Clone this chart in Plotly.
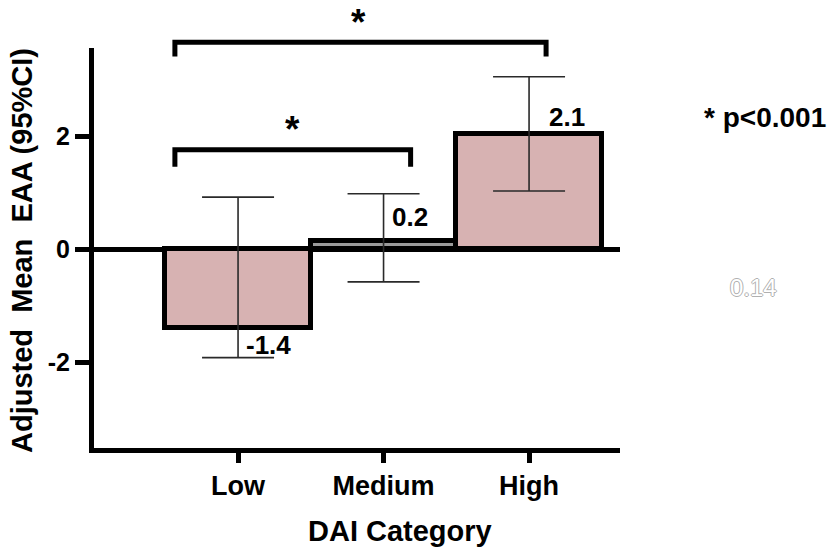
import plotly.graph_objects as go

# ---- data ----
categories = ["Low", "Medium", "High"]
means = [-1.4, 0.15, 2.03]
ci_lower = [-1.92, -0.58, 1.03]
ci_upper = [0.92, 0.98, 3.05]
bar_labels = ["-1.4", "0.2", "2.1"]
y_ticks = [-2, 0, 2]
x_title = "DAI Category"
y_title = "Adjusted  Mean  EAA (95%CI)"
sig_note = "* p<0.001"
stray_note = "0.14"
# brackets: (from category index, to category index, level)
brackets = [(0, 2, 3.66), (0, 1, 1.76)]

# ---- layout constants ----
W, H = 831, 549
ML, MR, MT, MB = 94, 211, 48, 101
XR = [-0.99, 2.625]
YR = [-3.52, 3.56]
FONT = "Liberation Sans, Arial, Helvetica, sans-serif"
plot_w = W - ML - MR
plot_h = H - MT - MB


def px_x(px):
    return (px - ML) / plot_w


def px_y(py):
    return (H - MB - py) / plot_h


def dx_paper(x):
    return (x - XR[0]) / (XR[1] - XR[0])


def dy_paper(y):
    return (y - YR[0]) / (YR[1] - YR[0])


colors = ["#d7b2b2", "#9a9a9a", "#d7b2b2"]

fig = go.Figure()
fig.add_trace(go.Bar(
    x=categories,
    y=means,
    width=1.0,
    marker=dict(color=colors, line=dict(color="black", width=5)),
    error_y=dict(
        type="data",
        symmetric=False,
        array=[u - m for u, m in zip(ci_upper, means)],
        arrayminus=[m - l for m, l in zip(means, ci_lower)],
        color="#2a2a2a",
        thickness=1.6,
        width=36,
    ),
    hoverinfo="skip",
))

annotations = []
# bar value labels
label_off = [(0.21, -0.30), (0.18, 0.42), (0.26, 0.31)]
for i, (lab, m) in enumerate(zip(bar_labels, means)):
    ox, oy = label_off[i]
    annotations.append(dict(
        x=i + ox, y=m + oy, xref="x", yref="y", text="<b>%s</b>" % lab,
        showarrow=False, font=dict(family=FONT, size=26, color="black"),
        xanchor="center", yanchor="middle",
    ))

shapes = []
bracket_ext = [(-0.434, 0.117, 0.25), (-0.434, 0.186, 0.30)]
star_px = [(358, 22), (292, 129)]
for (a, b, lvl), (ea, eb, drop), (sx, sy) in zip(brackets, bracket_ext, star_px):
    x0 = dx_paper(a + ea)
    x1 = dx_paper(b + eb)
    yt = dy_paper(lvl)
    yb = dy_paper(lvl - drop)
    shapes.append(dict(
        type="path", xref="paper", yref="paper",
        path="M %f %f L %f %f L %f %f L %f %f" % (x0, yb, x0, yt, x1, yt, x1, yb),
        line=dict(color="black", width=5),
    ))
    annotations.append(dict(
        x=px_x(sx), y=px_y(sy), xref="paper", yref="paper", text="<b>*</b>",
        showarrow=False, font=dict(family=FONT, size=37, color="black"),
        xanchor="center", yanchor="middle",
    ))

annotations += [
    dict(x=px_x(400), y=px_y(531), xref="paper", yref="paper",
         text="<b>%s</b>" % x_title, showarrow=False,
         font=dict(family=FONT, size=29, color="black"),
         xanchor="center", yanchor="middle"),
    dict(x=px_x(22), y=px_y(251), xref="paper", yref="paper",
         text="<b>%s</b>" % y_title, showarrow=False, textangle=-90,
         font=dict(family=FONT, size=29, color="black"),
         xanchor="center", yanchor="middle"),
    dict(x=px_x(702), y=px_y(117), xref="paper", yref="paper",
         text="<b>%s</b>" % sig_note, showarrow=False,
         font=dict(family=FONT, size=28, color="black"),
         xanchor="left", yanchor="middle"),
    dict(x=px_x(753), y=px_y(287), xref="paper", yref="paper",
         text=stray_note, showarrow=False,
         font=dict(family=FONT, size=24, color="white",
                   shadow="1px 0 0 #b0b0b0, -1px 0 0 #b0b0b0, 0 1px 0 #b0b0b0, 0 -1px 0 #b0b0b0"),
         xanchor="center", yanchor="middle"),
]

fig.update_layout(
    width=W, height=H,
    margin=dict(l=ML, r=MR, t=MT, b=MB),
    paper_bgcolor="white", plot_bgcolor="white",
    showlegend=False,
    bargap=0,
    shapes=shapes,
    annotations=annotations,
    font=dict(family=FONT, color="black"),
)
fig.update_xaxes(
    type="category", range=XR,
    showline=True, linecolor="black", linewidth=5,
    ticks="outside", ticklen=10, tickwidth=5, tickcolor="black",
    tickfont=dict(family=FONT, size=27, color="black", weight="bold"),
    showgrid=False, zeroline=False, fixedrange=True,
)
fig.update_yaxes(
    range=YR, tickvals=y_ticks, ticktext=[str(v) for v in y_ticks],
    showline=True, linecolor="black", linewidth=5,
    ticks="outside", ticklen=14, tickwidth=5, tickcolor="black",
    tickfont=dict(family=FONT, size=25, color="black", weight="bold"),
    showgrid=False, zeroline=True, zerolinecolor="black", zerolinewidth=5,
    fixedrange=True,
)

fig.write_html(
    "out.html",
    config={"displayModeBar": False},
    post_script="document.body.style.margin='0px';document.body.style.overflow='hidden';",
)
